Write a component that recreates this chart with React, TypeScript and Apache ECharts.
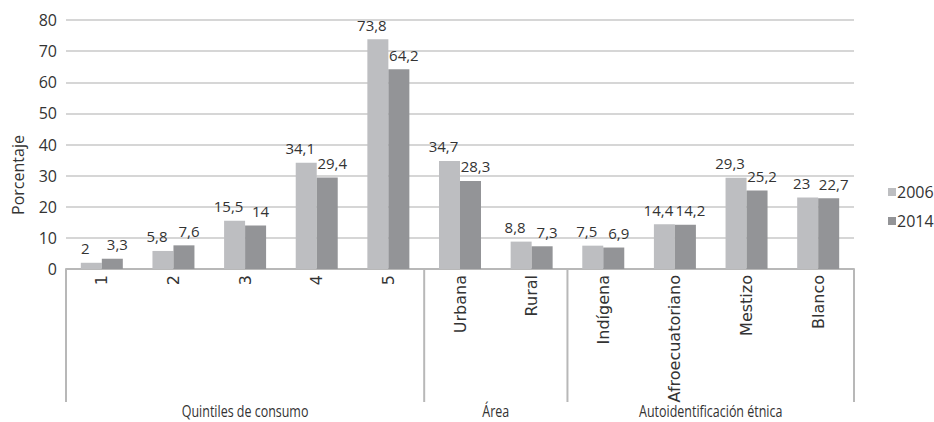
import React, { useEffect, useRef } from "react";
import * as echarts from "echarts";

// Categories along the x axis, grouped under three headings
const categories = [
  "1", "2", "3", "4", "5",
  "Urbana", "Rural",
  "Indígena", "Afroecuatoriano", "Mestizo", "Blanco",
];
const groupNames = ["Quintiles de consumo", "Área", "Autoidentificación étnica"];
const groupSpans = [5, 2, 4];

// Percentages per year
const seriesNames = ["2006", "2014"];
const values2006 = [2, 5.8, 15.5, 34.1, 73.8, 34.7, 8.8, 7.5, 14.4, 29.3, 23];
const values2014 = [3.3, 7.6, 14, 29.4, 64.2, 28.3, 7.3, 6.9, 14.2, 25.2, 22.7];

const yMin = 0;
const yMax = 80;
const yStep = 10;
const yName = "Porcentaje";

const W = 934;
const H = 422;
const GRID = { left: 66, right: 80, top: 20, bottom: 153 };
const TEXT_FONT = "'Open Sans', 'Noto Sans', sans-serif";
const CAT_FONT = "'DejaVu Sans', Verdana, sans-serif";
const TEXT_COLOR = "#333333";
const LINE_COLOR = "#b8b8b8";
const COLORS = ["#bdbec1", "#939497"];

const fmt = (v: number) => String(v).replace(".", ",");

export default function App() {
  const ref = useRef<HTMLDivElement>(null);

  useEffect(() => {
    if (!ref.current) return;
    const chart = echarts.init(ref.current, undefined, { renderer: "svg" });

    const plotW = W - GRID.left - GRID.right;
    const axisY = H - GRID.bottom;
    const bottomY = 402;
    const n = categories.length;

    // Group boundaries and group label centres along the category axis
    const bounds: number[] = [0];
    groupSpans.forEach((s) => bounds.push(bounds[bounds.length - 1] + s));
    const xAt = (b: number) => GRID.left + (plotW * b) / n;

    const graphics: any[] = [];
    bounds.forEach((b) => {
      graphics.push({
        type: "line",
        shape: { x1: xAt(b), y1: axisY, x2: xAt(b), y2: bottomY },
        style: { stroke: LINE_COLOR, lineWidth: 2 },
        silent: true,
      });
    });
    groupNames.forEach((name, i) => {
      graphics.push({
        type: "text",
        x: (xAt(bounds[i]) + xAt(bounds[i + 1])) / 2,
        y: 411,
        scaleX: 0.78,
        style: {
          text: name,
          fill: TEXT_COLOR,
          font: `16px ${TEXT_FONT}`,
          align: "center",
          verticalAlign: "middle",
        },
      });
    });
    graphics.push({
      type: "text",
      x: 18,
      y: 175,
      rotation: Math.PI / 2,
      style: {
        text: yName,
        fill: TEXT_COLOR,
        font: `16px ${TEXT_FONT}`,
        align: "center",
        verticalAlign: "middle",
      },
    });

    const barLabel = (dx: number) => ({
      show: true,
      position: "top",
      distance: 7,
      offset: [dx, 0],
      color: TEXT_COLOR,
      fontSize: 15,
      fontFamily: TEXT_FONT,
      formatter: (p: any) => fmt(p.value),
    });

    chart.setOption({
      animation: false,
      backgroundColor: "#ffffff",
      grid: { ...GRID, containLabel: false },
      legend: {
        orient: "vertical",
        left: 883,
        top: 179,
        itemWidth: 8,
        itemHeight: 8,
        itemGap: 13,
        icon: "rect",
        textStyle: { color: TEXT_COLOR, fontSize: 16, fontFamily: TEXT_FONT, padding: [0, 0, 0, -4] },
        data: seriesNames,
      },
      xAxis: {
        type: "category",
        data: categories,
        axisLine: { show: true, lineStyle: { color: LINE_COLOR, width: 2 } },
        axisTick: { show: false },
        axisLabel: {
          rotate: 90,
          margin: 6,
          color: TEXT_COLOR,
          fontSize: 16,
          fontFamily: CAT_FONT,
          interval: 0,
        },
      },
      yAxis: {
        type: "value",
        min: yMin,
        max: yMax,
        interval: yStep,
        axisLine: { show: false },
        axisTick: { show: false },
        axisLabel: {
          margin: 9,
          color: TEXT_COLOR,
          fontSize: 16,
          fontFamily: TEXT_FONT,
        },
        splitLine: { lineStyle: { color: "#d6d6d6", width: 2 } },
      },
      series: [
        {
          name: seriesNames[0],
          type: "bar",
          data: values2006,
          barWidth: 21,
          barGap: "0%",
          itemStyle: { color: COLORS[0] },
          label: barLabel(-6),
        },
        {
          name: seriesNames[1],
          type: "bar",
          data: values2014,
          barWidth: 21,
          barGap: "0%",
          itemStyle: { color: COLORS[1] },
          label: barLabel(5),
        },
      ],
      graphic: graphics,
    });

    return () => chart.dispose();
  }, []);

  return (
    <div
      ref={ref}
      style={{ position: "fixed", left: 0, top: 0, width: W, height: H, background: "#fff" }}
    />
  );
}
